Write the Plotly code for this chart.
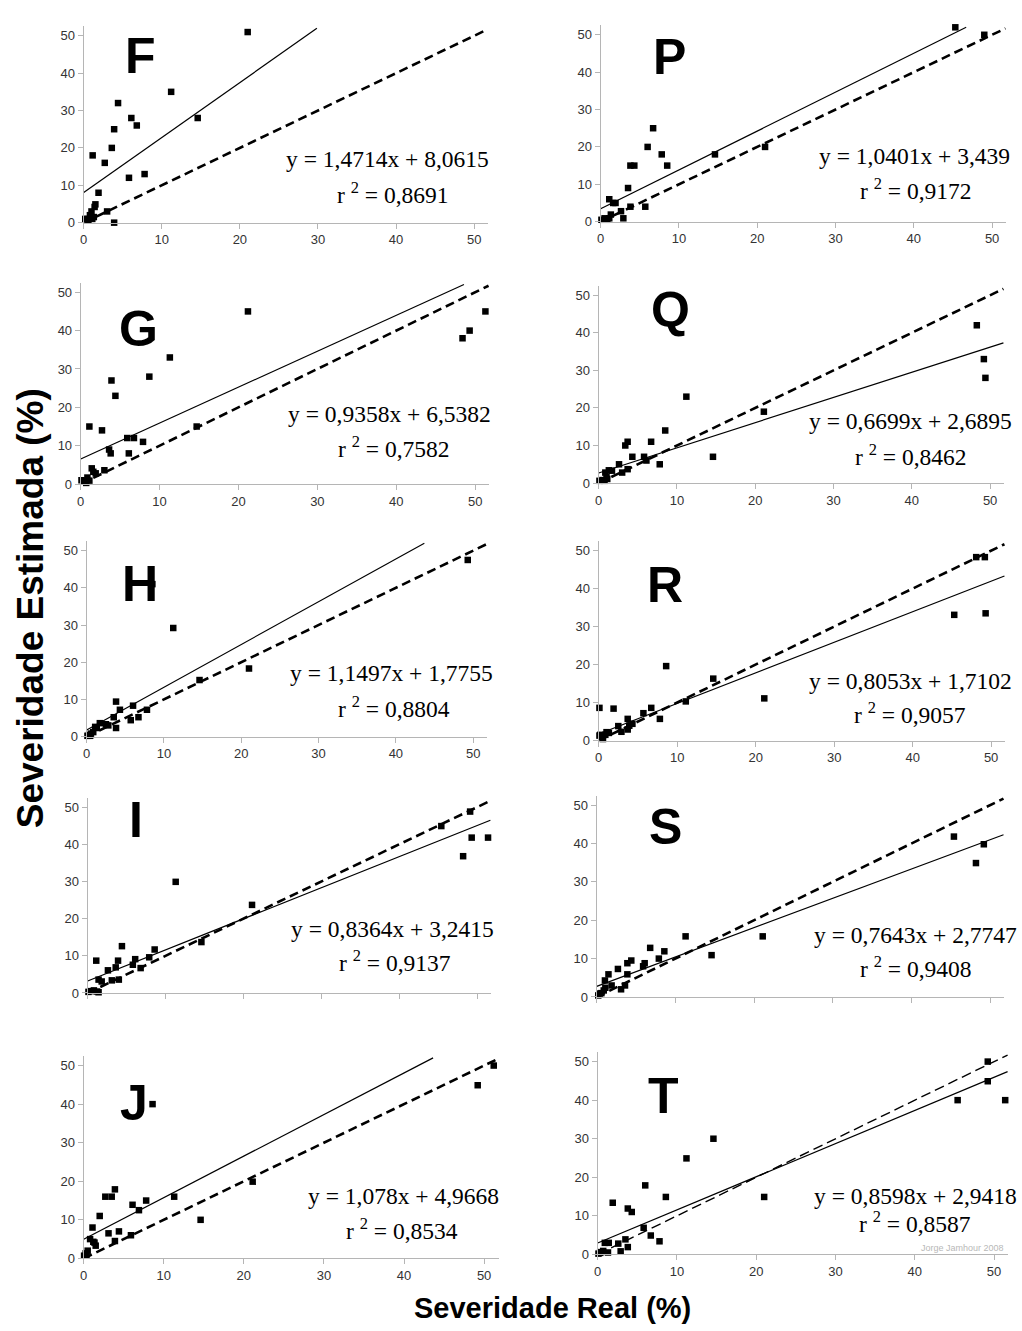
import numpy as np
import plotly.graph_objects as go

W, H = 1022, 1331

# ---------------- data ----------------
panel_names = ["F", "P", "G", "Q", "H", "R", "I", "S", "J", "T"]

F_real = [21.0, 11.2, 14.6, 4.4, 3.9, 6.1, 6.8, 3.6, 2.7, 1.15, 5.8, 7.8, 1.9, 1.5, 1.4, 3.0, 3.9, 0.2, 0.5, 0.8, 1.0, 1.1, 1.3, 0.6]
F_est = [51, 35, 28, 32, 25, 28, 26, 20, 16, 18, 12, 13, 8, 4.9, 4.2, 3, 0, 1, 1, 2, 3, 1, 1.5, 0.5]

P_real = [45.3, 49.0, 6.7, 6.0, 7.8, 8.5, 14.6, 21.0, 3.8, 4.3, 3.5, 5.7, 3.8, 1.1, 1.6, 1.9, 2.6, 2.9, 1.3, 0.1, 0.5, 0.85, 1.1]
P_est = [52, 50, 25, 20, 18, 15, 18, 20, 15, 15, 9, 4, 4, 6, 5, 5, 2.8, 0.9, 1.9, 0.5, 0.9, 0.5, 0.9]

G_real = [21.2, 51.3, 49.3, 48.4, 11.3, 8.7, 3.9, 4.4, 1.1, 2.7, 14.7, 5.9, 6.75, 7.9, 6.1, 3.6, 3.8, 3.0, 1.4, 1.6, 1.9, 0.1, 0.55, 0.85, 1.1, 0.7]
G_est = [45, 45, 40, 38, 33, 28, 27, 23, 15, 14, 15, 12, 12, 11, 8, 9, 8, 3.6, 4.1, 3.2, 2.8, 1, 0.9, 1.7, 0.9, 0.3]

Q_real = [48.3, 49.2, 49.4, 11.2, 21.1, 8.5, 14.6, 6.7, 3.7, 3.4, 4.3, 5.8, 6.1, 7.8, 2.6, 3.0, 3.7, 1.3, 1.7, 0.85, 1.0, 1.1, 0.1, 0.5, 0.75]
Q_est = [42, 33, 28, 23, 19, 14, 7, 11, 11, 10, 7, 7, 6, 5, 5, 2.8, 3.7, 3.4, 3.3, 2.8, 1.7, 1.1, 0.6, 0.8, 0.6]

H_real = [49.3, 8.5, 11.2, 21.0, 14.6, 3.8, 6.0, 4.3, 7.8, 3.5, 6.7, 5.7, 3.8, 2.5, 2.8, 1.7, 1.1, 1.3, 0.85, 0.55, 0.3, 0.1, 0.45]
H_est = [47.5, 41, 29.2, 18.3, 15.2, 9.4, 8.3, 7.2, 7.2, 5.2, 5.2, 4.4, 2.3, 3.3, 3.0, 3.6, 2.6, 2.3, 1.2, 0.8, 0.4, 0.2, 0.2]

R_real = [48.1, 49.2, 45.3, 49.3, 8.6, 14.6, 21.1, 11.1, 0.1, 1.9, 6.7, 5.7, 7.8, 3.7, 4.3, 3.9, 2.5, 3.7, 2.9, 1.3, 1.0, 0.85, 0.1, 0.35, 0.55, 0.2]
R_est = [48.3, 48.3, 33.1, 33.5, 19.6, 16.3, 11.1, 10.3, 8.6, 8.4, 8.6, 7.2, 5.7, 5.7, 4.4, 3.9, 3.8, 2.9, 2.3, 2.0, 2.2, 1.5, 1.3, 0.9, 0.4, 1.5]

I_real = [45.4, 49.1, 49.3, 51.4, 48.2, 11.3, 21.1, 14.6, 4.4, 8.6, 1.1, 7.9, 6.1, 3.9, 5.8, 3.6, 2.6, 6.8, 4.0, 3.1, 1.4, 1.8, 0.1, 0.4, 0.8, 1.2, 1.4]
I_est = [44.9, 48.8, 41.8, 41.8, 36.8, 29.9, 23.7, 13.7, 12.6, 11.7, 8.7, 9.6, 9.1, 8.7, 7.6, 6.9, 6.1, 6.7, 3.6, 3.4, 3.6, 3.1, 0.3, 0.5, 0.7, 0.4, 0.2]

S_real = [45.4, 49.2, 48.2, 11.3, 21.1, 14.6, 6.8, 8.6, 7.9, 6.1, 5.9, 4.4, 3.9, 2.7, 3.9, 1.5, 1.05, 1.9, 3.6, 3.1, 1.1, 0.9, 0.6, 0.2, 0.4]
S_est = [41.8, 39.8, 34.9, 15.8, 15.8, 10.9, 12.8, 11.9, 10, 8.8, 8.0, 9.5, 8.8, 7.3, 5.9, 5.9, 4.3, 3.0, 3.0, 2.0, 2.4, 1.7, 1.0, 0.4, 0.9]

J_real = [51.2, 49.2, 8.6, 21.1, 11.3, 14.6, 2.7, 3.5, 3.9, 7.8, 6.1, 6.9, 2.0, 1.1, 3.1, 4.4, 5.9, 3.9, 0.8, 1.35, 1.5, 1.2, 0.5, 0.25, 0.05, 0.35]
J_est = [50, 44.9, 40, 19.9, 16, 10, 16, 16, 17.9, 15, 13.9, 12.5, 11, 8, 6.5, 7, 6, 4.5, 5, 4.1, 3.3, 4.3, 2, 1.3, 0.7, 0.7]

T_real = [49.2, 49.2, 45.4, 51.4, 14.6, 11.2, 6.0, 1.9, 8.6, 21.0, 3.8, 4.3, 5.8, 6.7, 7.8, 3.5, 3.8, 2.6, 2.9, 0.9, 1.4, 1.3, 0.7, 0.4, 0.1, 0.3]
T_est = [50, 44.9, 40, 40, 30, 24.9, 17.9, 13.4, 14.9, 14.9, 11.9, 11.0, 6.9, 4.9, 3.4, 3.9, 1.9, 2.8, 0.8, 3.0, 3.0, 0.5, 0.9, 0.6, 0.2, 0.4]

slopes = [1.4714, 1.0401, 0.9358, 0.6699, 1.1497, 0.8053, 0.8364, 0.7643, 1.078, 0.8598]
intercepts = [8.0615, 3.439, 6.5382, 2.6895, 1.7755, 1.7102, 3.2415, 2.7747, 4.9668, 2.9418]
r_squared = ["0,8691", "0,9172", "0,7582", "0,8462", "0,8804", "0,9057", "0,9137", "0,9408", "0,8534", "0,8587"]

tick_vals = [0, 10, 20, 30, 40, 50]
tick_text = ["0", "10", "20", "30", "40", "50"]

reals = [F_real, P_real, G_real, Q_real, H_real, R_real, I_real, S_real, J_real, T_real]
ests = [F_est, P_est, G_est, Q_est, H_est, R_est, I_est, S_est, J_est, T_est]

# ---------------- layout (pixel geometry) ----------------
# (x of 0, x of 50, y of 0, y of 50) in pixels
panel_px = [
    (80, 472, 224, 36), (599, 992, 223, 35),
    (77, 473, 487, 294), (597, 990, 486, 297),
    (83, 471, 741, 554), (597, 991, 745, 554),
    (84, 475, 999, 812), (595, 990, 1003, 810),
    (80, 482, 1266, 1072), (596, 994, 1262, 1068),
]
XMAX, YMAX = 51.8, 52.5
letter_px = [(137, 56), (668, 57), (135, 331), (669, 312), (137, 588),
             (664, 589), (133, 825), (664, 832), (131, 1110), (662, 1103)]
eq1_px = [(385, 160), (914, 157), (387, 417), (910, 424), (389, 677),
          (910, 685), (390, 935), (915, 941), (401, 1203), (915, 1203)]
eq2_px = [(391, 194), (916, 190), (392, 450), (911, 458), (392, 711),
          (910, 717), (393, 967), (916, 973), (400, 1236), (915, 1229)]
show_xlabels = [True, True, True, True, True, True, False, False, True, True]


def px2x(px):
    return px / W


def px2y(py):
    return 1 - py / H


def fmt(v):
    return str(v).replace(".", ",")


fig = go.Figure()
annotations = []
AX_COLOR = "#b5b5b5"
TICK_FONT = dict(family="Liberation Sans, Arial, sans-serif", size=13, color="#333333")

for i, name in enumerate(panel_names):
    k = i + 1
    xs = "x" if k == 1 else f"x{k}"
    ys = "y" if k == 1 else f"y{k}"
    x0p, x50p, y0p, y50p = panel_px[i]
    sx = (x50p - x0p) / 50.0
    sy = (y0p - y50p) / 50.0
    xdom = [px2x(x0p), px2x(x0p + XMAX * sx)]
    ydom = [px2y(y0p), px2y(y0p - YMAX * sy)]

    # identity (1:1) dashed line
    ident = np.array([0.0, 51.7])
    if name == "T":
        dline = dict(color="black", width=1.4, dash="10px,5px")
    else:
        dline = dict(color="black", width=2.6, dash="9px,5px")
    fig.add_trace(go.Scatter(x=ident, y=ident, mode="lines", line=dline,
                             xaxis=xs, yaxis=ys, showlegend=False, hoverinfo="skip"))

    # regression line
    a, b = slopes[i], intercepts[i]
    xe = min(51.7, (52.0 - b) / a)
    rx = np.array([0.0, xe])
    fig.add_trace(go.Scatter(x=rx, y=a * rx + b, mode="lines",
                             line=dict(color="black", width=1.2),
                             xaxis=xs, yaxis=ys, showlegend=False, hoverinfo="skip"))

    # points
    fig.add_trace(go.Scatter(x=reals[i], y=ests[i], mode="markers",
                             marker=dict(symbol="square", size=6.5, color="black"),
                             cliponaxis=False, xaxis=xs, yaxis=ys, showlegend=False))

    xkey = "xaxis" if k == 1 else f"xaxis{k}"
    ykey = "yaxis" if k == 1 else f"yaxis{k}"
    fig.update_layout(**{
        xkey: dict(domain=xdom, anchor=ys, range=[0, XMAX], tickvals=tick_vals,
                   ticktext=tick_text, showticklabels=show_xlabels[i],
                   showgrid=False, zeroline=False, showline=True, linecolor=AX_COLOR,
                   linewidth=1, ticks="outside", ticklen=5, tickcolor=AX_COLOR,
                   tickfont=TICK_FONT, fixedrange=True),
        ykey: dict(domain=ydom, anchor=xs, range=[0, YMAX], tickvals=tick_vals,
                   ticktext=tick_text, showgrid=False, zeroline=False, showline=True,
                   linecolor=AX_COLOR, linewidth=1, ticks="outside", ticklen=5,
                   tickcolor=AX_COLOR, tickfont=TICK_FONT, fixedrange=True),
    })

    lx, ly = letter_px[i]
    annotations.append(dict(text=f"<b>{name}</b>", x=px2x(lx), y=px2y(ly), xref="paper",
                            yref="paper", showarrow=False, xanchor="center", yanchor="middle",
                            font=dict(family="Liberation Sans, Arial, sans-serif", size=50,
                                      color="black")))
    ex, ey = eq1_px[i]
    annotations.append(dict(text=f"y = {fmt(a)}x + {fmt(b)}", x=px2x(ex), y=px2y(ey),
                            xref="paper", yref="paper", showarrow=False,
                            xanchor="center", yanchor="middle",
                            font=dict(family="Liberation Serif, Times New Roman, serif",
                                      size=23.5, color="black")))
    ex, ey = eq2_px[i]
    annotations.append(dict(text=f"r <sup>2</sup> = {r_squared[i]}", x=px2x(ex), y=px2y(ey),
                            xref="paper", yref="paper", showarrow=False,
                            xanchor="center", yanchor="middle",
                            font=dict(family="Liberation Serif, Times New Roman, serif",
                                      size=23.5, color="black")))

annotations.append(dict(text="Jorge Jamhour 2008", x=px2x(962), y=px2y(1256), xref="paper",
                        yref="paper", showarrow=False, xanchor="center", yanchor="middle",
                        font=dict(family="Liberation Sans Narrow, Liberation Sans, Arial", size=9,
                                  color="#b8b8b8")))
annotations.append(dict(text="<b>Severidade Real (%)</b>", x=px2x(551), y=px2y(1316),
                        xref="paper", yref="paper", showarrow=False, xanchor="center",
                        yanchor="middle",
                        font=dict(family="Liberation Sans, Arial, sans-serif", size=29,
                                  color="black")))
annotations.append(dict(text="<b>Severidade Estimada (%)</b>", x=px2x(26), y=px2y(612),
                        xref="paper", yref="paper", showarrow=False, xanchor="center",
                        yanchor="middle", textangle=-90,
                        font=dict(family="Liberation Sans, Arial, sans-serif", size=37,
                                  color="black")))

fig.update_layout(width=W, height=H, margin=dict(l=0, r=0, t=0, b=0),
                  paper_bgcolor="white", plot_bgcolor="white",
                  annotations=annotations, showlegend=False)

fig.write_html("out.html", config={"displayModeBar": False})
